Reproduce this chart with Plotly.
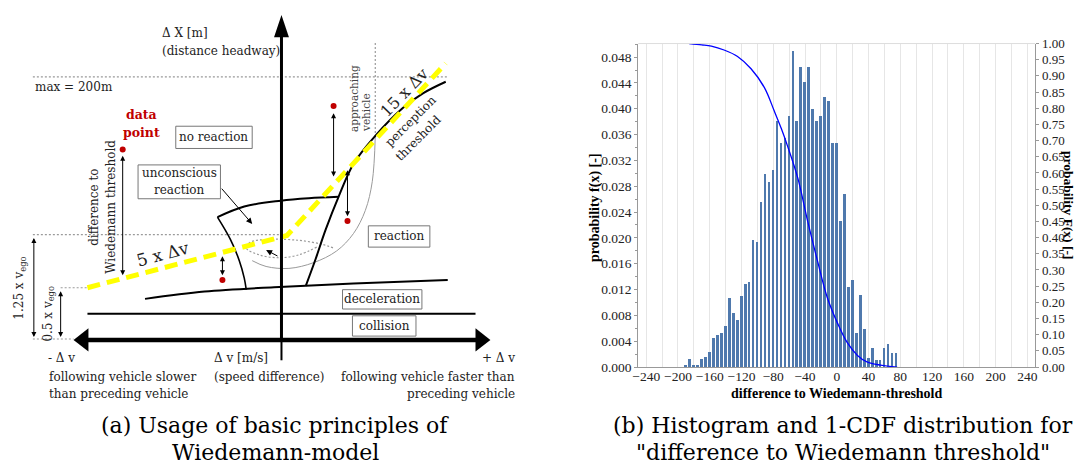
import plotly.graph_objects as go

# ================= panel (b): histogram + 1-CDF =================
bin_centers = [-190, -185, -180, -175, -170, -165, -160, -155, -150, -145,
               -140, -135, -130, -125, -120, -115, -110, -105, -100, -95,
               -90, -85, -80, -75, -70, -65, -60, -55, -50, -45,
               -40, -35, -30, -25, -20, -15, -10, -5, 0, 5,
               10, 15, 20, 25, 30, 35, 40, 45, 50, 55,
               60, 65, 70, 75]
density = [0.00045, 0.00125, 0.00045, 0.00045, 0.00125, 0.0016, 0.0024, 0.0046, 0.0050, 0.0054,
           0.0065, 0.0107, 0.0084, 0.0073, 0.0110, 0.0130, 0.0133, 0.0198, 0.0194, 0.0256,
           0.0299, 0.0287, 0.0306, 0.0381, 0.0348, 0.0355, 0.0389, 0.0490, 0.0381, 0.0465,
           0.0442, 0.0465, 0.0400, 0.0381, 0.0389, 0.0419, 0.0412, 0.0348, 0.0348, 0.0227,
           0.0268, 0.0124, 0.0136, 0.0053, 0.0113, 0.0060, 0.0015, 0.0030, 0.0012, 0.0012,
           0.0030, 0.0037, 0.0023, 0.0023]
cdf_x = [-186, -170, -158, -142, -125, -108, -91, -79, -70, -62,
         -49, -37, -24, -12, 1, 13, 26, 38, 55, 76]
cdf_y = [1.0, 0.996, 0.992, 0.980, 0.960, 0.922, 0.863, 0.793, 0.738, 0.683,
         0.583, 0.454, 0.325, 0.215, 0.135, 0.076, 0.036, 0.016, 0.006, 0.0]

# ================= panel (a): Wiedemann diagram (drawing units) =================
yellow_x = [82, 283, 443]
yellow_y = [290, 236, 58]
perception_x = [443, 420, 400, 372, 350, 335, 322, 312, 302]
perception_y = [77, 89, 104, 133, 162, 196, 230, 260, 288]
decel_x = [140, 200, 270, 350, 445]
decel_y = [301.5, 294, 289.5, 285.5, 282]
collision_x = [82, 473]
collision_y = [317, 317]
lens_top_x = [213, 240, 277, 305, 335]
lens_top_y = [217, 206, 200, 197.5, 196]
lens_left_x = [213, 226, 235, 240, 242]
lens_left_y = [217, 240, 262, 280, 292]
approach_x = [372, 369, 362, 350, 333, 310, 285, 262, 248]
approach_y = [133, 180, 210, 234, 252, 264, 270, 268, 262]
loop_x = [313, 295, 275, 255, 242, 246, 265, 295, 318, 330]
loop_y = [248, 256, 259, 256, 249, 243, 240, 241, 245, 249]
dot_x = [117.5, 218, 330, 344]
dot_y = [147, 282, 102, 221]
dims = [  # (x, y_start, y_end) of thin double arrows
    (117.5, 152, 277), (218, 256, 277), (330, 108, 175), (344, 167, 216),
    (28, 237, 341), (55, 292, 341)]
dotted_lines = [((27, 445), (72, 72)), ((372, 372), (37, 133)), ((27, 283), (235, 235)),
                ((55, 82), (290, 290)), ((27, 68), (343, 343))]

DF = "DejaVu Serif"
TF = "Liberation Serif"
# the page keeps an 8px body margin, so the figure occupies 1069x457 at (8, 8)
OFF = 8
W, H = 1085 - 2 * OFF, 473 - 2 * OFF
DIAG_R = 560


def px(x):
    return (x - OFF) / W


def py(y):
    return 1 - (y - OFF) / H


fig = go.Figure()

# ---------- histogram ----------
fig.add_trace(go.Bar(x=bin_centers, y=density, width=3.3, marker=dict(color="#4f79ad", line=dict(width=0)),
                     xaxis="x", yaxis="y", showlegend=False))
fig.add_trace(go.Scatter(x=cdf_x, y=cdf_y, mode="lines", line=dict(color="#0000ff", width=1.3, shape="spline"),
                         xaxis="x", yaxis="y3", showlegend=False))

# ---------- diagram lines ----------
def line(xs, ys, color="black", width=2, dash=None, shape="spline"):
    fig.add_trace(go.Scatter(x=xs, y=ys, mode="lines", xaxis="x2", yaxis="y2", showlegend=False,
                             hoverinfo="skip",
                             line=dict(color=color, width=width, dash=dash, shape=shape)))


for xs, ys in dotted_lines:
    line(list(xs), list(ys), color="#9a9a9a", width=1.2, dash="2px,2px", shape="linear")
line(approach_x, approach_y, color="#9a9a9a", width=1)
line(loop_x, loop_y, color="#9a9a9a", width=1.2, dash="2px,2px")
line(decel_x, decel_y, width=2)
line(collision_x, collision_y, width=2, shape="linear")
line(lens_top_x, lens_top_y, width=2)
line(lens_left_x, lens_left_y, width=1.6)
line(perception_x, perception_y, width=2)
line(yellow_x, yellow_y, color="#ffff00", width=5, dash="13px,7px", shape="linear")
# axes of diagram
line([277.5, 277.5], [28, 344], width=3, shape="linear")
line([277.5, 277.5], [344, 365], width=2, shape="linear")
line([80, 476], [344, 344], width=4.5, shape="linear")
fig.add_trace(go.Scatter(x=dot_x, y=dot_y, mode="markers", xaxis="x2", yaxis="y2", showlegend=False,
                         marker=dict(color="#c00000", size=6)))

shapes = []
# arrow heads
for path in ["M 270 31 L 277.5 8 L 285 31 Z", "M 83 332 L 68 344 L 83 356 Z", "M 473 332 L 488 344 L 473 356 Z"]:
    shapes.append(dict(type="path", path=path, xref="x2", yref="y2", fillcolor="black", line=dict(width=0)))
# boxes
for (x0, y0, x1, y1) in [(171, 123, 248, 146), (133, 163, 216, 198), (365, 226, 427, 248),
                         (339, 292, 419, 312), (349, 319, 413, 340)]:
    shapes.append(dict(type="rect", x0=x0, x1=x1, y0=y0, y1=y1, xref="x2", yref="y2",
                       line=dict(color="#777777", width=1), fillcolor="white"))
# top light border for histogram
shapes.append(dict(type="line", xref="paper", yref="paper", x0=px(637), x1=px(1037), y0=py(37.5), y1=py(37.5),
                   line=dict(color="#dddddd", width=1)))

ann = []
for (x, y0, y1) in dims:
    ann.append(dict(x=x, y=y1, ax=x, ay=y0, xref="x2", yref="y2", axref="x2", ayref="y2", text="",
                    showarrow=True, arrowhead=2, startarrowhead=2, arrowside="end+start",
                    arrowsize=1, arrowwidth=1, arrowcolor="black"))
ann.append(dict(x=248, y=224, ax=216, ay=186, xref="x2", yref="y2", axref="x2", ayref="y2", text="",
                showarrow=True, arrowhead=2, arrowsize=1.2, arrowwidth=1, arrowcolor="black"))
ann.append(dict(x=262, y=251, ax=275, ay=258, xref="x2", yref="y2", axref="x2", ayref="y2", text="",
                showarrow=True, arrowhead=2, arrowsize=1.2, arrowwidth=1, arrowcolor="black"))


def t(x, y, text, size=12, color="#222222", xanchor="center", angle=0, family=DF, ref="x2"):
    ann.append(dict(x=x, y=y, text=text, xref=ref, yref=("y2" if ref == "x2" else "paper"), showarrow=False,
                    xanchor=xanchor, yanchor="middle", textangle=angle,
                    font=dict(family=family, size=size, color=color)))


t(155, 27, "Δ X [m]", xanchor="left")
t(155, 45, "(distance headway)", xanchor="left")
t(27, 82, "max = 200m", xanchor="left")
t(136, 111, "<b>data</b>", color="#c00000", size=12.5)
t(136, 129, "<b>point</b>", color="#c00000", size=12.5)
t(209.5, 134.5, "no reaction")
t(174.5, 171, "unconscious")
t(174.5, 189, "reaction")
t(396, 237, "reaction")
t(379, 302, "deceleration")
t(381, 329.5, "collision")
t(158, 255, "5 x Δv", size=17, angle=-15)
t(401, 88, "15 x Δv", size=16, angle=-46)
t(408, 118, "perception", angle=-45)
t(415.5, 135, "threshold", angle=-45)
t(350, 94.5, "approaching", size=10.5, angle=-90, color="#444444")
t(362.5, 108.5, "vehicle", size=10.5, angle=-90, color="#444444")
t(89, 207, "difference to", angle=-90)
t(105, 206, "Wiedemann threshold", angle=-90)
t(14, 290, "1.25 x v<sub>ego</sub>", angle=-90)
t(43, 317, "0.5 x v<sub>ego</sub>", angle=-90)
t(40, 363, "- Δ v", xanchor="left")
t(41, 382, "following vehicle slower", xanchor="left")
t(41, 400, "than preceding vehicle", xanchor="left")
t(207, 363, "Δ v [m/s]", xanchor="left")
t(207, 382, "(speed difference)", xanchor="left")
t(515, 363, "+ Δ v", xanchor="right")
t(515, 382, "following vehicle faster than", xanchor="right")
t(515, 400, "preceding vehicle", xanchor="right")
t(271, 432, "(a) Usage of basic principles of", size=22, color="black")
t(271, 460, "Wiedemann-model", size=22, color="black")

# panel (b) texts (paper refs)
t(px(843), py(432), "(b) Histogram and 1-CDF distribution for", size=22, color="black", ref="paper")
t(px(843), py(460), "\"difference to Wiedemann threshold\"", size=22, color="black", ref="paper")
t(px(594), py(207), "<b>probability f(x) [-]</b>", size=14, color="black", angle=-90, family=TF, ref="paper")
t(px(1070.5), py(205), "<b>probability F(x) [-]</b>", size=13.5, color="black", angle=90, family=TF, ref="paper")
t(px(837), py(399), "<b>difference to Wiedemann-threshold</b>", size=14, color="black", family=TF, ref="paper")

tickfont = dict(family=TF, size=13, color="#222222")
fig.update_layout(
    width=W, height=H, margin=dict(l=0, r=0, t=0, b=0),
    paper_bgcolor="white", plot_bgcolor="rgba(0,0,0,0)",
    bargap=0,
    xaxis=dict(domain=[px(637), px(1037)], range=[-250, 250], tickmode="linear", tick0=-240, dtick=40,
               showgrid=True, gridcolor="#e6e6e6", gridwidth=1,
               minor=dict(dtick=20, tick0=-240, showgrid=True, gridcolor="#e6e6e6"),
               showline=True, linecolor="#999999", ticks="", ticklabelstandoff=-3,
               tickfont=dict(family=TF, size=13.5, color="#222222"), zeroline=False, anchor="y"),
    yaxis=dict(domain=[py(372), py(37.5)], range=[0, 0.0501], tickmode="linear", tick0=0, dtick=0.004,
               tickformat=".3f", showgrid=False, zeroline=False, showline=True, linecolor="#999999",
               ticks="outside", ticklen=3, tickcolor="#999999", tickfont=dict(family=TF, size=13.5, color="#222222"),
               minor=dict(dtick=0.002, ticks="outside", ticklen=2, tickcolor="#999999"), anchor="x"),
    yaxis3=dict(overlaying="y", side="right", anchor="x", range=[0, 1.0], tickmode="linear", tick0=0,
                dtick=0.05, tickformat=".2f", showgrid=False, zeroline=False, showline=True,
                linecolor="#999999", ticks="outside", ticklen=3, tickcolor="#999999", tickfont=tickfont),
    # diagram axes: drawing units equal page pixels of the 1085x473 window
    xaxis2=dict(domain=[0, px(DIAG_R)], range=[OFF, DIAG_R], visible=False, anchor="y2"),
    yaxis2=dict(domain=[0, 1], range=[OFF + H, OFF], visible=False, anchor="x2"),
    shapes=shapes, annotations=ann,
)

fig.write_html("out.html", config={"displayModeBar": False})
